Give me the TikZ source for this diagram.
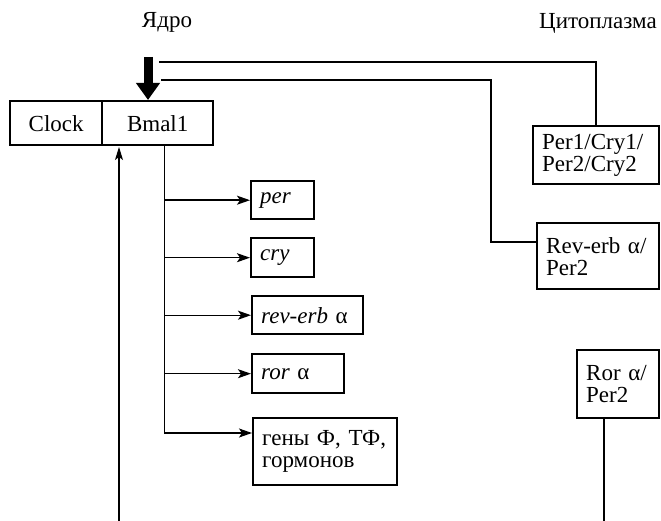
\documentclass[tikz,border=0pt]{standalone}
\usepackage{fontspec}
\setmainfont{Liberation Serif}[Ligatures=TeX]
\usetikzlibrary{arrows.meta,calc}
\begin{document}
\begin{tikzpicture}[x=1pt,y=-1pt,
  every node/.style={font=\rmfamily\fontsize{23}{22}\selectfont},
  box/.style={draw, line width=2.4pt, anchor=north west, inner xsep=9pt, inner ysep=0pt, align=left},
  cbox/.style={box, align=center},
  conn/.style={line width=1.4pt},
  thin/.style={line width=1.1pt},
  arr/.style={conn, -{Stealth[length=13pt,width=9pt,inset=3pt]}},
  uparr/.style={thin, -{Stealth[length=13pt,width=8pt,inset=3pt]}},
  bigarr/.style={line width=9pt, -{Triangle[length=17pt,width=23pt]}}]
\useasboundingbox (0,0) rectangle (661,521);

% labels
\node[anchor=base] (nuc) at (167,28) {Ядро};
\node[anchor=base] (cyt) at (598,29) {Цитоплазма};

% Clock / Bmal1
\node[cbox, text width=74pt, minimum height=44pt] (clock) at (9,100) {Clock};
\node[cbox, text width=93pt, minimum height=44pt] (bmal) at (101,100) {Bmal1};

% target genes
\node[box, text width=45pt, minimum height=38pt] (per) at (250,180) {\textit{per}};
\node[box, text width=45pt, minimum height=39pt] (cry) at (250,237) {\textit{cry}};
\node[box, text width=93pt, minimum height=38pt] (rev) at (251,295) {\textit{rev-erb} α};
\node[box, text width=74pt, minimum height=39pt] (ror) at (251,353) {\textit{ror} α};
\node[box, text width=126pt, minimum height=67pt] (genes) at (252,417) {гены Ф, ТФ,\\гормонов};

% cytoplasm proteins
\node[box, text width=108pt, minimum height=58pt] (pc) at (532,125) {Per1/Cry1/\\Per2/Cry2};
\node[box, text width=104pt, minimum height=66pt] (rp) at (536,222) {Rev-erb α/\\Per2};
\node[box, text width=64pt, minimum height=68pt] (rorp) at (576,349) {Ror α/\\Per2};

% coordinates
\coordinate (shaftTop) at (148,57);
\coordinate (n1) at (159,62);
\coordinate (n2) at (161,80);
\coordinate (c1) at ($(pc.north west)+(64,0)$);
\coordinate (k) at (491,242);
\coordinate (trunk) at ($(bmal.south east)+(-50,0)$);
\coordinate (g) at ($(genes.north west)+(0,16)$);
\coordinate (upStart) at (119,521);
\coordinate (upEnd) at (119,147);
\coordinate (rorTop) at ($(rorp.south west)+(28,0)$);
\coordinate (rorBot) at (rorTop |- upStart);

% big arrow into nucleus
\draw[bigarr] (shaftTop) -- (shaftTop |- bmal.north);

% return lines from cytoplasm
\draw[conn] (n1) -- (n1 -| c1) -- (c1);
\draw[conn] (n2) -- (n2 -| k) -- (k) -- (k -| rp.west);

% trunk and branches
\draw[conn] (trunk) -- (trunk |- g);
\draw[arr] (trunk |- per.west) -- (per.west);
\draw[arr] (trunk |- cry.west) -- (cry.west);
\draw[arr] (trunk |- rev.west) -- (rev.west);
\draw[arr] (trunk |- ror.west) -- (ror.west);
\draw[arr] (trunk |- g) -- (g);

% incoming arrow from below
\draw[uparr] (upStart) -- (upEnd);

% Ror line down
\draw[thin] (rorTop) -- (rorBot);
\end{tikzpicture}
\end{document}
